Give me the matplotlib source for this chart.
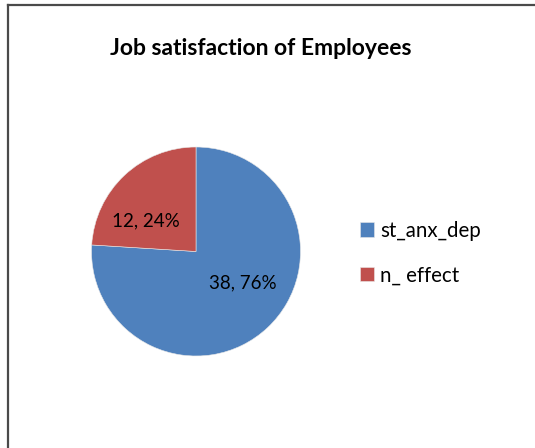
import matplotlib
matplotlib.use("Agg")
import matplotlib.pyplot as plt
from matplotlib.lines import Line2D

groups = ["st_anx_dep", "n_ effect"]
counts = [38, 12]
colors = ["#4F81BD", "#C0504D"]
title = "Job satisfaction of Employees"

plt.rcParams['font.family'] = ['Lato', 'DejaVu Sans']

W, H = 535, 448
fig = plt.figure(figsize=(W / 100, H / 100), dpi=100)

# chart border (left and top edges only, rest is cropped)
fig.add_artist(Line2D([7.5 / W, 7.5 / W], [0, 1 - 5.5 / H], color="#4a4a4a", lw=1.6))
fig.add_artist(Line2D([7.5 / W, 1], [1 - 5.5 / H, 1 - 5.5 / H], color="#4a4a4a", lw=1.6))

fig.text(261 / W, 1 - 48.5 / H, title, ha="center", va="center",
         fontsize=16.5, fontweight="bold")

cx, cy, r = 196, 251.5, 104.5
ax = fig.add_axes([(cx - r) / W, 1 - (cy + r) / H, 2 * r / W, 2 * r / H])
wedges, _ = ax.pie(counts, colors=colors, startangle=90, counterclock=False,
                   wedgeprops=dict(linewidth=0.4, edgecolor="#e8e8e8"))
ax.set_xlim(-1, 1)
ax.set_ylim(-1, 1)

total = sum(counts)
label_pos = [(0.45, -0.30), (-0.48, 0.29)]
for n, (lx, ly) in zip(counts, label_pos):
    ax.text(lx, ly, f"{n}, {round(n / total * 100)}%", ha="center", va="center",
            fontsize=13.5, color="black")

fig.legend(wedges, groups, loc="center left",
           bbox_to_anchor=(341 / W, 1 - 253 / H), frameon=False,
           handlelength=0.7, handleheight=0.7, handletextpad=0.3,
           labelspacing=1.2, fontsize=14.8)

fig.savefig("out.png", dpi=100)
